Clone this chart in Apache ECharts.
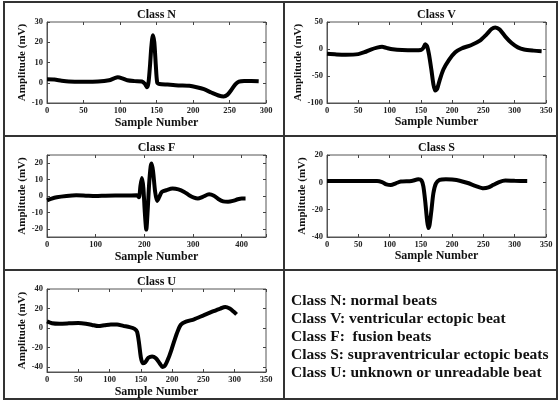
<!DOCTYPE html>
<html>
<head>
<meta charset="utf-8">
<script src="https://cdn.jsdelivr.net/npm/echarts@6/dist/echarts.min.js"></script>
<style>
  html, body { margin: 0; padding: 0; background: #fff; }
  #chart { width: 559px; height: 408px; }
</style>
</head>
<body>
<div id="chart"></div>
<script>
// [sample, amplitude]
const beatN = [[0,1.7],[10,1.6],[20,1.0],[30,0.6],[50,0.5],[70,0.6],[85,1.2],[92,2.2],[97,2.7],[103,2.2],[110,1.2],[120,0.8],[130,0.6],[134,-0.5],[137,-2.2],[139,0],[141,8],[143,18],[145,23.5],[147,20],[149,9],[151,0],[154,-0.6],[165,-0.9],[180,-1.3],[195,-1.5],[205,-2.2],[215,-3.2],[225,-4.8],[235,-6.3],[242,-6.8],[247,-6],[252,-3.8],[258,-0.8],[263,0.6],[270,0.9],[280,0.9],[290,0.8]]
const beatV = [[0,-9],[15,-10],[30,-10.5],[50,-9.5],[60,-6],[70,-1],[80,2.5],[88,4],[95,2],[105,-0.5],[120,-2],[140,-2.5],[150,-2],[154,2],[157,9],[160,5],[163,-10],[167,-40],[170,-65],[173,-77],[176,-74],[180,-58],[186,-38],[195,-20],[205,-6],[215,1],[230,7],[245,16],[255,27],[263,37],[269,40],[276,36],[285,23],[295,11],[305,3],[315,-1],[330,-3],[343,-4]]
const beatF = [[0,-2.7],[8,-1.8],[20,-0.8],[40,0],[60,0.4],[80,0.2],[100,0],[120,0.2],[140,0.3],[160,0.3],[185,0.4],[189,-0.8],[192,6],[195,11],[198,5],[201,-10],[204,-20.5],[207,-8],[210,8],[213,18],[215,19.8],[218,15],[222,3],[226,-3],[230,-1],[236,2.5],[245,3.5],[258,4.5],[270,4],[282,2.5],[292,0.5],[302,-1],[310,-1.5],[320,-0.5],[333,1],[343,0.2],[352,-1.8],[362,-3.3],[372,-3.5],[382,-3],[392,-2],[400,-1.5],[408,-1.5]]
const beatS = [[0,1],[40,1],[80,1],[88,0.2],[95,-1.5],[102,-2],[110,-0.7],[118,0.6],[135,1],[146,2.2],[151,1.5],[154,-3],[157,-14],[160,-28],[162,-33.5],[164,-31],[167,-20],[170,-8],[174,-1],[180,1.8],[190,2.3],[200,2],[212,1.2],[225,-0.5],[238,-2.7],[250,-4.3],[258,-3.7],[266,-1.8],[275,0.2],[285,1.3],[300,1.1],[320,1]]
const beatU = [[0,6.8],[8,5],[20,4.5],[35,4.8],[50,5.2],[62,4.5],[72,3.2],[82,2],[92,2.8],[102,3.6],[112,3.6],[122,2.2],[132,1],[140,-0.8],[144,-4],[147,-15],[150,-30],[153,-36],[157,-35],[162,-30.5],[168,-29],[174,-31],[180,-36],[185,-40],[189,-38],[194,-31],[199,-22],[204,-12],[209,-3],[214,3.5],[222,6.5],[235,9],[250,13],[265,17],[277,20],[285,21.5],[292,20],[298,17],[303,14]]

const panelTitles = ['Class N', 'Class V', 'Class F', 'Class S', 'Class U']
// axis ranges / tick steps per panel
const xMax = [300, 350, 450, 350, 350]
const xStep = [50, 50, 100, 50, 50]
const yMin = [-10, -100, -25, -40, -45]
const yMax = [30, 50, 25, 20, 40]
const yStep = [10, 50, 10, 20, 20]

const classNotes = [
	'Class N: normal beats',
	'Class V: ventricular ectopic beat',
	'Class F:  fusion beats',
	'Class S: supraventricular ectopic beats',
	'Class U: unknown or unreadable beat'
]

const series = [beatN, beatV, beatF, beatS, beatU]

const layout = [
	{ left: 47, top: 22, width: 219, height: 81, nameGap: 14 },
	{ left: 327, top: 22, width: 219, height: 81, nameGap: 11 },
	{ left: 47, top: 155, width: 219, height: 82, nameGap: 14 },
	{ left: 327, top: 155, width: 219, height: 82, nameGap: 11 },
	{ left: 47, top: 289, width: 219, height: 83, nameGap: 14 }
]

const serif = '"Liberation Serif", "Times New Roman", serif'

const tickLabel = (step) => (v) => (Math.abs(v % step) < 1e-9 ? String(v) : '')

const grids = []
const xAxes = []
const yAxes = []
const seriesList = []
const graphics = []

layout.forEach((g, i) => {
	grids.push({
		left: g.left, top: g.top, width: g.width, height: g.height,
		show: true, borderColor: '#555', borderWidth: 1, backgroundColor: '#fff'
	})
	// y range not a multiple of the step for F and U: let echarts pick the step
	const yInterval = yMin[i] % yStep[i] === 0 ? yStep[i] : undefined
	const common = {
		gridIndex: i,
		type: 'value',
		splitLine: { show: false },
		axisLine: { show: true, onZero: false, lineStyle: { color: '#555', width: 1 } },
		axisTick: { show: true, inside: true, length: 3, lineStyle: { color: '#444' } }
	}
	xAxes.push({
		...common,
		position: 'bottom',
		min: 0, max: xMax[i], interval: xStep[i],
		name: 'Sample Number',
		nameLocation: 'middle',
		nameGap: g.nameGap,
		nameTextStyle: { fontFamily: serif, fontWeight: 'bold', fontSize: 12, color: '#111' },
		axisLabel: { fontFamily: serif, fontWeight: 'bold', fontSize: 8.5, color: '#222', margin: 3, formatter: tickLabel(xStep[i]) }
	})
	xAxes.push({
		...common,
		position: 'top',
		min: 0, max: xMax[i], interval: xStep[i],
		axisLine: { show: false, onZero: false },
		axisLabel: { show: false }
	})
	yAxes.push({
		...common,
		position: 'left',
		min: yMin[i], max: yMax[i], interval: yInterval, splitNumber: 4,
		name: 'Amplitude (mV)',
		nameLocation: 'middle',
		nameGap: 17,
		nameTextStyle: { fontFamily: serif, fontWeight: 'bold', fontSize: 11, color: '#111' },
		axisLabel: { fontFamily: serif, fontWeight: 'bold', fontSize: 8.5, color: '#222', margin: 4, formatter: tickLabel(yStep[i]) }
	})
	yAxes.push({
		...common,
		position: 'right',
		min: yMin[i], max: yMax[i], interval: yInterval, splitNumber: 4,
		axisLine: { show: false, onZero: false },
		axisLabel: { show: false }
	})
	seriesList.push({
		type: 'line',
		xAxisIndex: 2 * i,
		yAxisIndex: 2 * i,
		data: series[i],
		showSymbol: false,
		smooth: 0.25,
		lineStyle: { color: '#000', width: 4 },
		animation: false
	})
	graphics.push({
		type: 'text',
		x: g.left + g.width / 2,
		y: g.top - 7,
		style: {
			text: panelTitles[i],
			font: 'bold 12px ' + serif,
			fill: '#111',
			textAlign: 'center', align: 'center',
			textVerticalAlign: 'middle', verticalAlign: 'middle'
		}
	})
})

// cell borders
const frame = { stroke: '#333', lineWidth: 2 }
graphics.push(
	{ type: 'rect', shape: { x: 4, y: 2, width: 553, height: 397 }, style: { fill: 'none', ...frame } },
	{ type: 'line', shape: { x1: 284, y1: 2, x2: 284, y2: 399 }, style: frame },
	{ type: 'line', shape: { x1: 4, y1: 136, x2: 557, y2: 136 }, style: frame },
	{ type: 'line', shape: { x1: 4, y1: 270, x2: 557, y2: 270 }, style: frame }
)

classNotes.forEach((t, k) => {
	graphics.push({
		type: 'text',
		x: 291,
		y: 301 + k * 18,
		style: {
			text: t,
			font: 'bold 15.5px ' + serif,
			fill: '#111',
			textAlign: 'left', align: 'left',
			textVerticalAlign: 'middle', verticalAlign: 'middle'
		}
	})
})

const myChart = echarts.init(document.getElementById('chart'), null, { renderer: 'canvas' })
myChart.setOption({
	backgroundColor: '#fff',
	animation: false,
	grid: grids,
	xAxis: xAxes,
	yAxis: yAxes,
	series: seriesList,
	graphic: { elements: graphics }
})
</script>
</body>
</html>
